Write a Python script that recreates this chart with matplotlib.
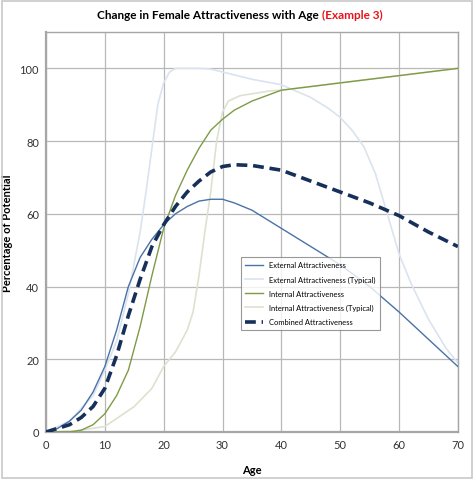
import matplotlib.pyplot as plt
from matplotlib.patches import Rectangle

plt.rcParams['font.family'] = ['Lato', 'DejaVu Sans']

# age grid used by the smooth series
ages = [0, 2, 4, 6, 8, 10, 12, 14, 16, 18, 20, 22, 24, 26, 28, 30, 32, 35,
        40, 45, 50, 55, 60, 65, 70]

external = [0, 1, 3, 6, 11, 18, 28, 40, 48, 53, 57, 60, 62, 63.5, 64, 64, 63, 61,
            56, 51, 46, 40, 33, 25.5, 18]
internal = [0, 0, 0, 0.5, 2, 5, 10, 17, 29, 43, 56, 65, 72, 78, 83, 86, 88.5, 91,
            94, 95, 96, 97, 98, 99, 100]
combined = [0, 1, 2, 4, 7, 12, 21, 32, 42, 51, 57, 62, 66, 69, 71.5, 73, 73.5, 73.3,
            72, 69, 66, 63, 59.5, 55, 51]

ext_typ_ages = [0, 4, 8, 10, 12, 14, 16, 17, 18, 19, 20, 21, 22, 26, 28, 30, 35,
                40, 45, 48, 50, 52, 54, 56, 58, 60, 62, 65, 68, 70]
ext_typ = [0, 3, 10, 17, 25, 38, 55, 66, 78, 90, 96, 99, 100, 100, 99.8, 99, 97,
           95.5, 92, 89, 86.5, 83, 78.5, 71, 60, 49, 41, 31, 23, 19]

int_typ_ages = [0, 5, 10, 15, 18, 20, 22, 24, 25, 26, 27, 28, 29, 30, 31, 33, 35,
                38, 40, 45, 50, 55, 60, 65, 70]
int_typ = [0, 0.3, 1.5, 7, 12, 18, 22, 28, 33, 43, 55, 66, 80, 88, 91, 92.5, 93,
           93.8, 94, 95, 96, 97, 98, 99, 100]

fig = plt.figure(figsize=(4.74, 4.81), dpi=100)
fig.patches.append(Rectangle((0.004, 0.004), 0.992, 0.992, transform=fig.transFigure,
                             fill=False, edgecolor='#c8c8c8', linewidth=1.2))
ax = fig.add_axes([0.097, 0.0998, 0.869, 0.8316])

# typical curves sit underneath the others
ax.plot(ages, external, color='#4a72a8', lw=1.0, zorder=4, label='External Attractiveness')
ax.plot(ext_typ_ages, ext_typ, color='#dae3f0', lw=1.2, zorder=2,
        label='External Attractiveness (Typical)')
ax.plot(ages, internal, color='#7f9a46', lw=1.0, zorder=4, label='Internal Attractiveness')
ax.plot(int_typ_ages, int_typ, color='#dde2cf', lw=1.2, zorder=2,
        label='Internal Attractiveness (Typical)')
ax.plot(ages, combined, color='#17305a', lw=2.6, ls=(0, (3, 1.6)), zorder=5,
        label='Combined Attractiveness')

ax.set_xlim(0, 70)
ax.set_ylim(0, 110)
ax.set_xticks(range(0, 71, 10))
ax.set_yticks(range(0, 101, 20))
ax.grid(True, color='#b8b8b8', lw=0.9)
ax.set_axisbelow(True)
for s in ax.spines.values():
    s.set_color('#a6a6a6')
    s.set_linewidth(1.0)
ax.spines['left'].set_linewidth(1.6)
ax.spines['bottom'].set_linewidth(1.6)
ax.tick_params(length=0, labelsize=8, pad=5, colors='#333333')

ax.set_xlabel('Age', fontsize=8, fontweight='bold', labelpad=10)
ax.set_ylabel('Percentage of Potential', fontsize=8, fontweight='bold', labelpad=5)

# two-colour title: measure the black part, then put the red part right after it
t1 = fig.text(0.205, 0.968, 'Change in Female Attractiveness with Age ', ha='left',
              va='center', fontsize=8.5, fontweight='bold')
fig.canvas.draw()
bb = t1.get_window_extent().transformed(fig.transFigure.inverted())
fig.text(bb.x1, 0.968, '(Example 3)', ha='left', va='center', fontsize=8.5,
         fontweight='bold', color='#e8131b')

leg = ax.legend(loc='upper left', bbox_to_anchor=(0.473, 0.4375), fontsize=5.4,
                frameon=True, fancybox=False, handlelength=2.4, labelspacing=0.95,
                borderpad=0.6, handletextpad=0.8, borderaxespad=0)
leg.get_frame().set_edgecolor('#7f7f7f')
leg.get_frame().set_linewidth(0.8)
leg.set_zorder(10)

fig.savefig('out.png', dpi=100)
